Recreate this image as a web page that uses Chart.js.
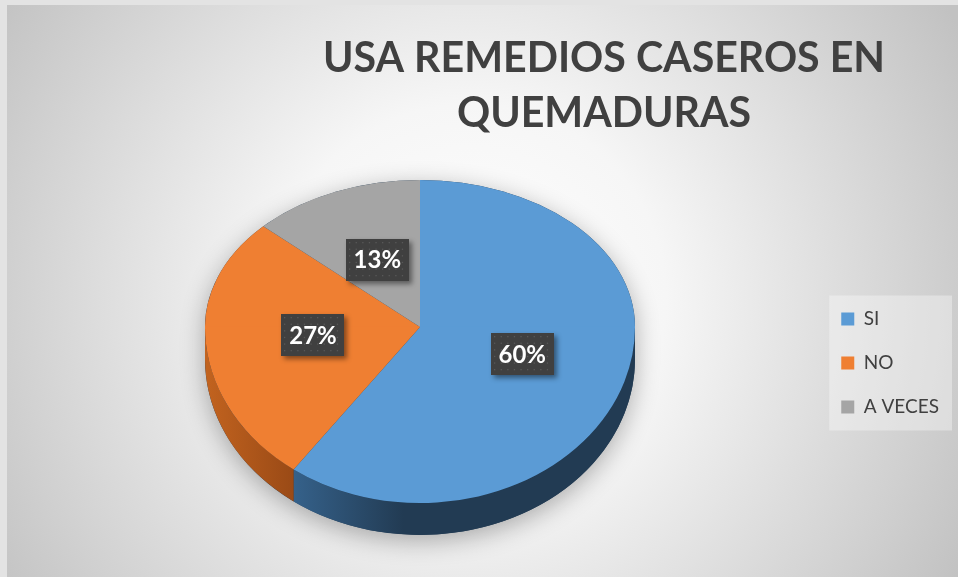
<!DOCTYPE html>
<html>
<head>
<meta charset="utf-8">
<script src="https://cdn.jsdelivr.net/npm/chart.js@4.4.1/dist/chart.umd.min.js"></script>
<style>
  html, body { margin: 0; padding: 0; background: #fff; }
  #wrap { width: 958px; height: 577px; }
</style>
</head>
<body>
<div id="wrap"><canvas id="pieChart" width="958" height="577"></canvas></div>
<script>
// Datos del gráfico
const categorias = ['SI', 'NO', 'A VECES'];
const porcentajes = [60, 27, 13];
const colores = ['#5b9bd5', '#ef7f32', '#a5a5a5'];
const titulo = ['USA REMEDIOS CASEROS EN', 'QUEMADURAS'];

// Vista "3D": centro en pantalla, achatado arriba/abajo y grosor
const vista = { cx: 420, cy: 327, kTop: 147 / 215, kBot: 176 / 215, depth: 32 };

// Colores de las paredes laterales (claro -> oscuro)
const lados = [['#35618a', '#223b53'], ['#c2631f', '#9a4a16'], ['#7a7a7a', '#5a5a5a']];

function cajaEtiqueta(ctx, x, y, texto) {
    const w = 63, h = 42;
    const x0 = Math.round(x - w / 2), y0 = Math.round(y - h / 2);
    ctx.save();
    ctx.shadowColor = 'rgba(0,0,0,0.45)';
    ctx.shadowBlur = 5;
    ctx.shadowOffsetX = 3;
    ctx.shadowOffsetY = 3;
    ctx.fillStyle = '#404040';
    ctx.fillRect(x0, y0, w, h);
    ctx.restore();
    ctx.save();
    ctx.fillStyle = 'rgba(255,255,255,0.13)';
    for (let dx = 3; dx < w - 1; dx += 6.6) {
        for (let dy = 3; dy < h - 1; dy += 6.6) {
            ctx.fillRect(x0 + dx, y0 + dy, 1.3, 1.3);
        }
    }
    ctx.fillStyle = '#ffffff';
    ctx.font = 'bold 24px Lato';
    ctx.textAlign = 'center';
    ctx.textBaseline = 'middle';
    ctx.fillText(texto, x, y + 1);
    ctx.restore();
}

const pie3d = {
    id: 'pie3d',
    beforeDraw(chart) {
        const ctx = chart.ctx;
        ctx.save();
        ctx.fillStyle = '#e3e3e3';
        ctx.fillRect(0, 0, chart.width, chart.height);
        const g = ctx.createRadialGradient(470, 300, 0, 470, 300, 560);
        g.addColorStop(0, '#ffffff');
        g.addColorStop(0.35, '#f6f6f6');
        g.addColorStop(1, '#c2c2c2');
        ctx.fillStyle = g;
        ctx.fillRect(7, 5, chart.width - 7, chart.height - 5);

        // fondo de la leyenda
        const hb = chart.legend && chart.legend.legendHitBoxes;
        if (hb && hb.length) {
            const left = Math.min(...hb.map(b => b.left)) - 12;
            const top = Math.min(...hb.map(b => b.top)) - 14;
            const bottom = Math.max(...hb.map(b => b.top + b.height)) + 14;
            ctx.fillStyle = 'rgba(255,255,255,0.35)';
            ctx.fillRect(left, top, 952 - left, bottom - top);
        }
        ctx.restore();
    },
    beforeDatasetsDraw(chart) {
        const ctx = chart.ctx;
        const arcs = chart.getDatasetMeta(0).data;
        if (!arcs.length) return false;
        const ox = arcs[0].x, oy = arcs[0].y, R = arcs[0].outerRadius;
        const { cx, cy, kTop, kBot, depth } = vista;

        // sombra
        ctx.save();
        ctx.shadowColor = 'rgba(0,0,0,0.3)';
        ctx.shadowBlur = 24;
        ctx.shadowOffsetY = 6;
        ctx.fillStyle = '#223b53';
        ctx.beginPath();
        ctx.moveTo(cx + R, cy);
        ctx.lineTo(cx + R, cy + depth);
        ctx.ellipse(cx, cy + depth, R, R * kBot, 0, 0, Math.PI);
        ctx.lineTo(cx - R, cy);
        ctx.ellipse(cx, cy, R, R * kTop, 0, Math.PI, 2 * Math.PI);
        ctx.closePath();
        ctx.fill();
        ctx.restore();

        // paredes laterales
        arcs.forEach((arc, i) => {
            const a1 = Math.max(arc.startAngle, 0);
            const a2 = Math.min(arc.endAngle, Math.PI);
            if (a2 <= a1) return;
            const xa = cx + R * Math.cos(a2), xb = cx + R * Math.cos(a1);
            const g = ctx.createLinearGradient(xa, 0, Math.min(xa + 110, xb), 0);
            g.addColorStop(0, lados[i][0]);
            g.addColorStop(1, lados[i][1]);
            ctx.save();
            ctx.fillStyle = g;
            ctx.beginPath();
            ctx.ellipse(cx, cy, R, R * kBot, 0, a1, a2);
            ctx.ellipse(cx, cy + depth, R, R * kBot, 0, a2, a1, true);
            ctx.closePath();
            ctx.fill();
            ctx.restore();
        });

        // cara superior: mitad de arriba y mitad de abajo con distinto achatado
        [[kTop, -1], [kBot, 1]].forEach(([k, lado]) => {
            ctx.save();
            ctx.beginPath();
            if (lado < 0) ctx.rect(0, 0, chart.width, cy + 0.5);
            else ctx.rect(0, cy - 0.5, chart.width, chart.height);
            ctx.clip();
            ctx.translate(cx, cy);
            ctx.scale(1, k);
            ctx.translate(-ox, -oy);
            arcs.forEach(a => a.draw(ctx));
            ctx.restore();
        });
        return false;
    },
    afterDraw(chart) {
        const ctx = chart.ctx;
        const arcs = chart.getDatasetMeta(0).data;
        const { cx, cy, kTop, kBot } = vista;
        const total = porcentajes.reduce((s, v) => s + v, 0);
        arcs.forEach((arc, i) => {
            const p = arc.tooltipPosition();
            const dy = p.y - arc.y;
            const x = cx + (p.x - arc.x);
            const y = cy + dy * (dy < 0 ? kTop : kBot);
            cajaEtiqueta(ctx, x, y, Math.round(porcentajes[i] / total * 100) + '%');
        });

        // título
        ctx.save();
        ctx.font = 'bold 42px Lato';
        ctx.fillStyle = '#404040';
        ctx.textAlign = 'center';
        ctx.textBaseline = 'alphabetic';
        const s = 562 / ctx.measureText(titulo[0]).width;
        ctx.translate(604, 0);
        ctx.scale(s, 1);
        ctx.fillText(titulo[0], 0, 72);
        ctx.fillText(titulo[1], 0, 127);
        ctx.restore();
    }
};

const ctx = document.getElementById('pieChart').getContext('2d');

new Chart(ctx, {
    type: 'pie',
    data: {
        labels: categorias,
        datasets: [{
            data: porcentajes,
            backgroundColor: colores,
            borderWidth: 0
        }]
    },
    options: {
        responsive: false,
        animation: false,
        events: [],
        radius: 215,
        layout: { padding: { top: 149, right: 9, bottom: 0, left: 0 } },
        plugins: {
            title: { display: false },
            tooltip: { enabled: false },
            legend: {
                display: true,
                position: 'right',
                labels: {
                    boxWidth: 13,
                    boxHeight: 13,
                    padding: 25,
                    color: '#404040',
                    font: { family: 'Lato', size: 19 }
                }
            }
        }
    },
    plugins: [pie3d]
});
</script>
</body>
</html>
